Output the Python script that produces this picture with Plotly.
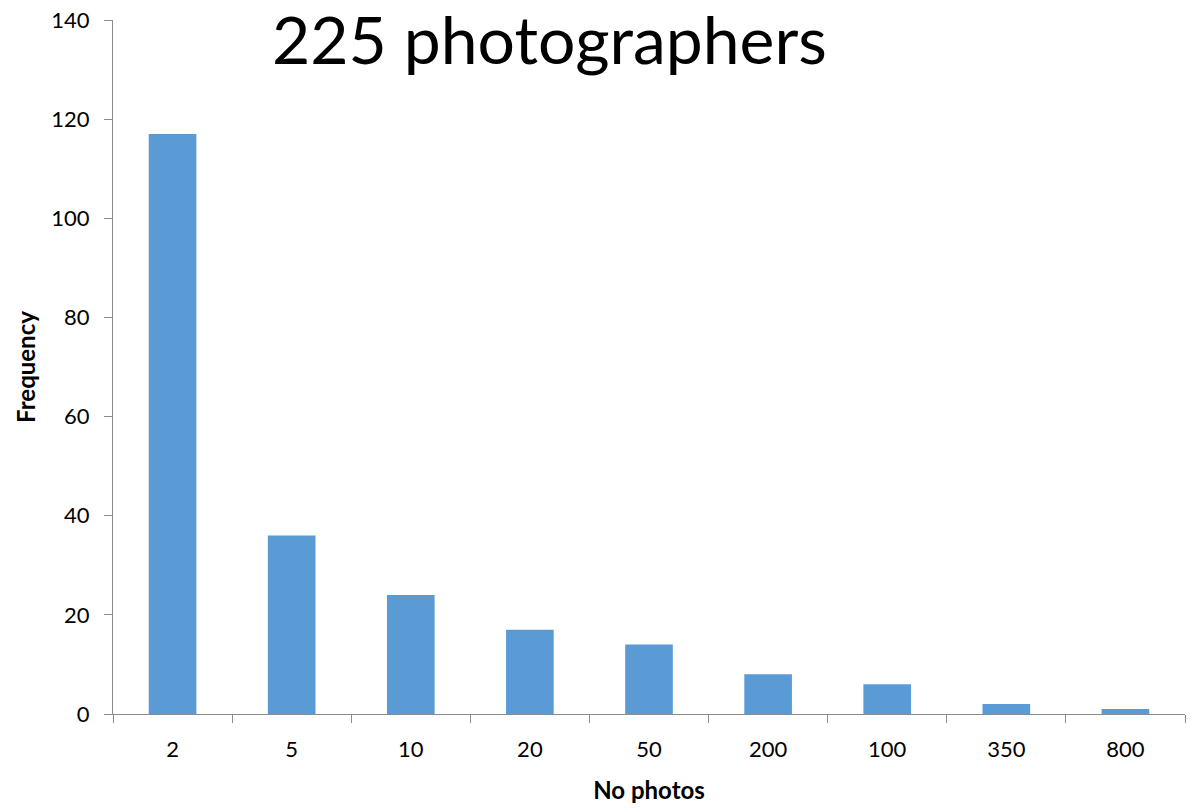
import plotly.graph_objects as go

# Number of photos per photographer (bins) and how many photographers fall in each
photo_bins = ["2", "5", "10", "20", "50", "200", "100", "350", "800"]
frequency = [117, 36, 24, 17, 14, 8, 6, 2, 1]
y_ticks = [0, 20, 40, 60, 80, 100, 120, 140]

FONT = "Lato, Carlito, Calibri, sans-serif"
AXIS_GREY = "#8c8c8c"

fig = go.Figure(
    go.Bar(
        x=photo_bins,
        y=frequency,
        marker=dict(color="#5B9BD5", line=dict(width=0)),
    )
)

fig.update_layout(
    width=1203,
    height=808,
    margin=dict(l=113, r=18, t=20, b=94, autoexpand=False),
    paper_bgcolor="white",
    plot_bgcolor="white",
    bargap=0.6,
    showlegend=False,
    font=dict(family=FONT, color="#000000", size=22),
    annotations=[
        dict(
            text="225 photographers",
            xref="paper", yref="paper",
            x=(549 - 113) / (1185 - 113), y=1.0,
            xanchor="center", yanchor="top",
            yshift=23,
            showarrow=False,
            font=dict(family=FONT, size=66, color="#000000"),
        )
    ],
)

fig.update_xaxes(
    type="category",
    showline=True,
    linecolor=AXIS_GREY,
    linewidth=1,
    ticks="outside",
    tickson="boundaries",
    ticklen=8,
    tickcolor=AXIS_GREY,
    showgrid=False,
    tickfont=dict(family=FONT, size=22),
    ticklabelstandoff=16,
    title=dict(text="<b>No photos</b>", font=dict(family=FONT, size=24), standoff=20),
)

fig.update_yaxes(
    range=[0, 140],
    tickvals=y_ticks,
    showline=True,
    linecolor=AXIS_GREY,
    linewidth=1,
    ticks="outside",
    ticklen=8,
    tickcolor=AXIS_GREY,
    showgrid=False,
    zeroline=False,
    tickfont=dict(family=FONT, size=22),
    ticklabelstandoff=10,
    title=dict(text="<b>Frequency</b>", font=dict(family=FONT, size=24), standoff=8),
)

fig.write_html("out.html")
